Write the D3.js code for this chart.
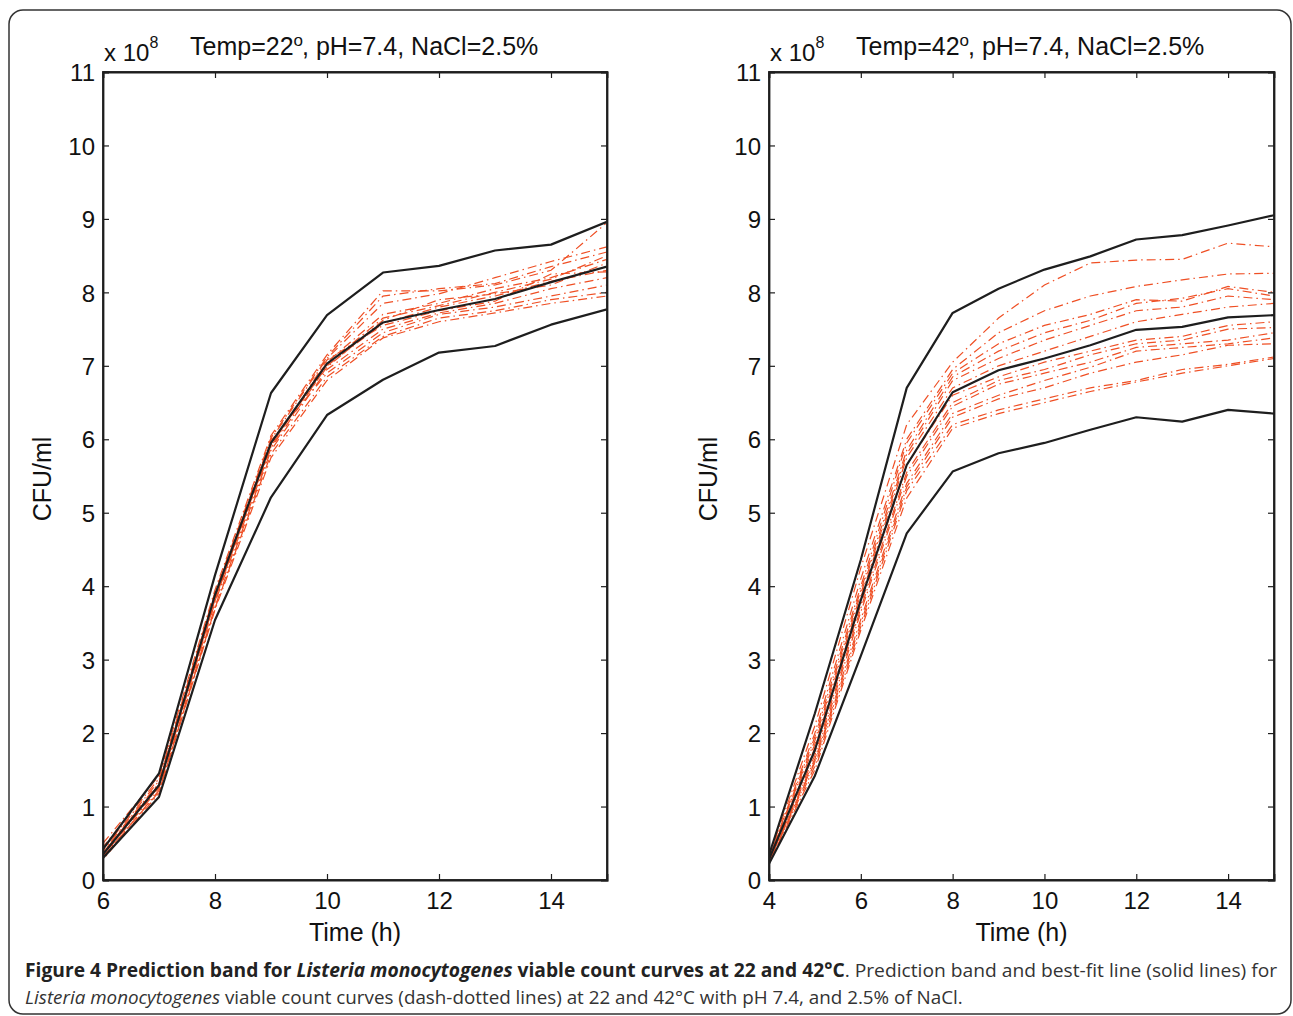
<!DOCTYPE html>
<html><head><meta charset="utf-8">
<script src="https://cdn.jsdelivr.net/npm/d3@7/dist/d3.min.js"></script>
<style>
body{margin:0;background:#fff;}
svg{display:block;font-family:"Liberation Sans",Arial,Helvetica,sans-serif;}
</style></head>
<body>
<svg id="chart" width="1293" height="1016"></svg>
<script>
// ---------- DATA (CFU/ml, x 10^8) ----------
const timesLeft = [6,7,8,9,10,11,12,13,14,15];
const timesRight = [4,5,6,7,8,9,10,11,12,13,14,15];
const xTicksLeft = [6,8,10,12,14];
const xTicksRight = [4,6,8,10,12,14];
const yTicks = [0,1,2,3,4,5,6,7,8,9,10,11];

// 22 °C : prediction band + best-fit
const upperLeft = [0.42,1.45,4.15,6.63,7.69,8.27,8.36,8.57,8.65,8.96];
const fitLeft   = [0.35,1.29,3.88,5.95,7.03,7.59,7.76,7.91,8.14,8.35];
const lowerLeft = [0.30,1.13,3.54,5.21,6.33,6.81,7.18,7.27,7.56,7.77];
// 22 °C : viable count curves (dash-dotted)
const curvesLeft = [
  [0.50,1.42,3.95,6.05,7.15,8.02,8.02,8.10,8.30,8.95],
  [0.42,1.35,3.90,6.00,7.10,7.85,7.98,8.20,8.42,8.62],
  [0.38,1.30,3.82,5.92,7.05,7.70,7.85,8.05,8.20,8.45],
  [0.33,1.25,3.78,5.88,7.00,7.58,7.80,7.95,8.15,8.30],
  [0.30,1.22,3.72,5.85,6.95,7.50,7.72,7.85,8.05,8.20],
  [0.36,1.28,3.80,5.98,6.90,7.45,7.70,7.80,7.95,8.10],
  [0.32,1.20,3.70,5.80,6.85,7.40,7.65,7.75,7.90,8.00],
  [0.45,1.38,3.92,6.02,7.12,7.95,8.05,8.12,8.35,8.55],
  [0.40,1.32,3.88,5.96,6.98,7.62,7.90,7.98,8.10,8.40],
  [0.28,1.18,3.68,5.75,6.80,7.38,7.60,7.72,7.85,7.95],
  [0.34,1.27,3.84,5.90,7.08,7.55,7.75,7.88,8.25,8.28],
  [0.37,1.30,3.86,5.94,7.02,7.65,7.82,8.00,8.18,8.50]
];

// 42 °C : prediction band + best-fit
const upperRight = [0.34,2.27,4.36,6.70,7.72,8.05,8.31,8.49,8.72,8.78,8.91,9.05];
const fitRight   = [0.28,1.77,3.81,5.65,6.64,6.94,7.10,7.28,7.49,7.53,7.66,7.69];
const lowerRight = [0.22,1.42,3.05,4.72,5.56,5.81,5.95,6.13,6.30,6.24,6.40,6.35];
// 42 °C : viable count curves (dash-dotted)
const curvesRight = [
  [0.32,2.10,4.25,6.20,7.05,7.65,8.10,8.40,8.44,8.45,8.67,8.62],
  [0.30,2.00,4.10,6.00,6.95,7.45,7.75,7.95,8.08,8.17,8.25,8.26],
  [0.29,1.95,4.00,5.95,6.90,7.30,7.55,7.70,7.90,7.88,8.08,8.00],
  [0.30,1.90,3.95,5.85,6.85,7.20,7.45,7.62,7.85,7.92,8.05,7.95],
  [0.28,1.85,3.90,5.80,6.80,7.10,7.35,7.55,7.75,7.80,7.95,7.90],
  [0.27,1.80,3.85,5.75,6.70,7.00,7.20,7.40,7.60,7.70,7.80,7.85],
  [0.28,1.75,3.75,5.65,6.60,6.85,7.05,7.20,7.35,7.40,7.55,7.60],
  [0.26,1.70,3.70,5.55,6.50,6.80,6.95,7.15,7.30,7.35,7.50,7.52],
  [0.27,1.65,3.65,5.50,6.45,6.75,6.90,7.05,7.25,7.30,7.35,7.45],
  [0.26,1.62,3.55,5.40,6.35,6.60,6.80,6.98,7.20,7.25,7.30,7.38],
  [0.25,1.60,3.50,5.35,6.30,6.55,6.70,6.90,7.05,7.15,7.28,7.30],
  [0.25,1.55,3.45,5.30,6.20,6.40,6.55,6.70,6.80,6.95,7.02,7.12],
  [0.24,1.50,3.40,5.20,6.15,6.35,6.50,6.65,6.78,6.90,7.00,7.10]
];

const titleLeft = "Temp=22";
const titleRight = "Temp=42";
const titleRest = ", pH=7.4, NaCl=2.5%";

// ---------- DRAWING ----------
const svg = d3.select("#chart");
const RED = "#ef4f24", INK = "#1e1e1e";

svg.append("rect").attr("x",9).attr("y",10).attr("width",1282).attr("height",1004)
  .attr("rx",14).attr("fill","none").attr("stroke","#333").attr("stroke-width",1.5);

function panel(cfg){
  const {x0,x1,yTop,yBot,times,xDomain,xTicks,upper,fit,lower,curves,title,id} = cfg;
  const x = d3.scaleLinear().domain(xDomain).range([x0,x1]);
  const y = d3.scaleLinear().domain([0,11]).range([yBot,yTop]);
  const g = svg.append("g");
  g.append("clipPath").attr("id",id).append("rect")
    .attr("x",x0).attr("y",yTop).attr("width",x1-x0).attr("height",yBot-yTop);
  const line = d3.line().x((d,i)=>x(times[i])).y(d=>y(d));
  const plot = g.append("g").attr("clip-path",`url(#${id})`);
  plot.selectAll("path.c").data(curves).join("path").attr("class","c")
    .attr("d",line).attr("fill","none").attr("stroke",RED).attr("stroke-width",1.2)
    .attr("stroke-dasharray",(d,i)=>"9,4,1.5,4").attr("stroke-dashoffset",(d,i)=>i*3);
  plot.selectAll("path.b").data([upper,fit,lower]).join("path").attr("class","b")
    .attr("d",line).attr("fill","none").attr("stroke",INK).attr("stroke-width",2.2)
    .attr("stroke-linejoin","round");

  // axes (box with inward ticks)
  const tl = 6;
  const axB = g.append("g").attr("transform",`translate(0,${yBot})`)
    .call(d3.axisBottom(x).tickValues(xTicks).tickSize(-tl).tickPadding(12).tickFormat(d3.format("d")));
  const axT = g.append("g").attr("transform",`translate(0,${yTop})`)
    .call(d3.axisTop(x).tickValues(xTicks).tickSize(-tl).tickFormat(""));
  const axL = g.append("g").attr("transform",`translate(${x0},0)`)
    .call(d3.axisLeft(y).tickValues(yTicks).tickSize(-tl).tickPadding(8).tickFormat(d3.format("d")));
  const axR = g.append("g").attr("transform",`translate(${x1},0)`)
    .call(d3.axisRight(y).tickValues(yTicks).tickSize(-tl).tickFormat(""));
  [axB,axT,axL,axR].forEach(a=>{
    a.select(".domain").attr("stroke",INK).attr("stroke-width",1.8);
    a.selectAll(".tick line").attr("stroke",INK).attr("stroke-width",1.2);
    a.selectAll("text").attr("fill","#111").attr("font-size",24)
      .attr("font-family","'Liberation Sans',Arial,sans-serif");
  });
  axB.selectAll("text").attr("dy","0.71em").attr("y",12);
  axL.selectAll("text").attr("dy","0.36em");
  g.append("rect").attr("x",x0).attr("y",yTop).attr("width",x1-x0).attr("height",yBot-yTop)
    .attr("fill","none").attr("stroke",INK).attr("stroke-width",1.8);

  // labels
  g.append("text").attr("x",(x0+x1)/2).attr("y",yBot+61).attr("text-anchor","middle")
    .attr("font-size",25).attr("fill","#111").text("Time (h)");
  g.append("text").attr("transform",`translate(${x0-52},${(yTop+yBot)/2+3}) rotate(-90)`)
    .attr("text-anchor","middle").attr("font-size",25).attr("fill","#111").text("CFU/ml");
  const ex = g.append("text").attr("x",x0+1).attr("y",yTop-11).attr("font-size",24).attr("fill","#111");
  ex.append("tspan").text("x 10");
  ex.append("tspan").attr("font-size",16).attr("dy",-13).text("8");
  const tt = g.append("text").attr("x",x0+87).attr("y",yTop-17).attr("font-size",25).attr("fill","#111");
  tt.append("tspan").text(title);
  tt.append("tspan").attr("font-size",17).attr("dy",-9).attr("dx",0).text("o");
  tt.append("tspan").attr("dy",9).attr("dx",-1).text(titleRest);
}

panel({id:"clipL",x0:103,x1:607,yTop:72,yBot:880,times:timesLeft,xDomain:[6,15],xTicks:xTicksLeft,
  upper:upperLeft,fit:fitLeft,lower:lowerLeft,curves:curvesLeft,title:titleLeft});
panel({id:"clipR",x0:769,x1:1274,yTop:72,yBot:880,times:timesRight,xDomain:[4,15],xTicks:xTicksRight,
  upper:upperRight,fit:fitRight,lower:lowerRight,curves:curvesRight,title:titleRight});

// caption
function fitText(sel, width){
  const w = sel.node().getBBox().width;
  const xx = +sel.attr("x");
  sel.attr("transform",`translate(${xx},0) scale(${width/w},1) translate(${-xx},0)`);
}
const cap1 = svg.append("text").attr("x",25).attr("y",977).attr("font-size",19)
  .attr("font-family","'Open Sans','Noto Sans',sans-serif").attr("fill","#222");
cap1.append("tspan").attr("font-weight","bold").text("Figure 4 Prediction band for ");
cap1.append("tspan").attr("font-weight","bold").attr("font-style","italic").text("Listeria monocytogenes");
cap1.append("tspan").attr("font-weight","bold").text(" viable count curves at 22 and 42°C");
cap1.append("tspan").attr("fill","#333").text(". Prediction band and best-fit line (solid lines) for");
fitText(cap1, 1253);
const cap2 = svg.append("text").attr("x",25).attr("y",1004).attr("font-size",19)
  .attr("font-family","'Open Sans','Noto Sans',sans-serif").attr("fill","#333");
cap2.append("tspan").attr("font-style","italic").text("Listeria monocytogenes");
cap2.append("tspan").text(" viable count curves (dash-dotted lines) at 22 and 42°C with pH 7.4, and 2.5% of NaCl.");
fitText(cap2, 938);
</script>
</body></html>
